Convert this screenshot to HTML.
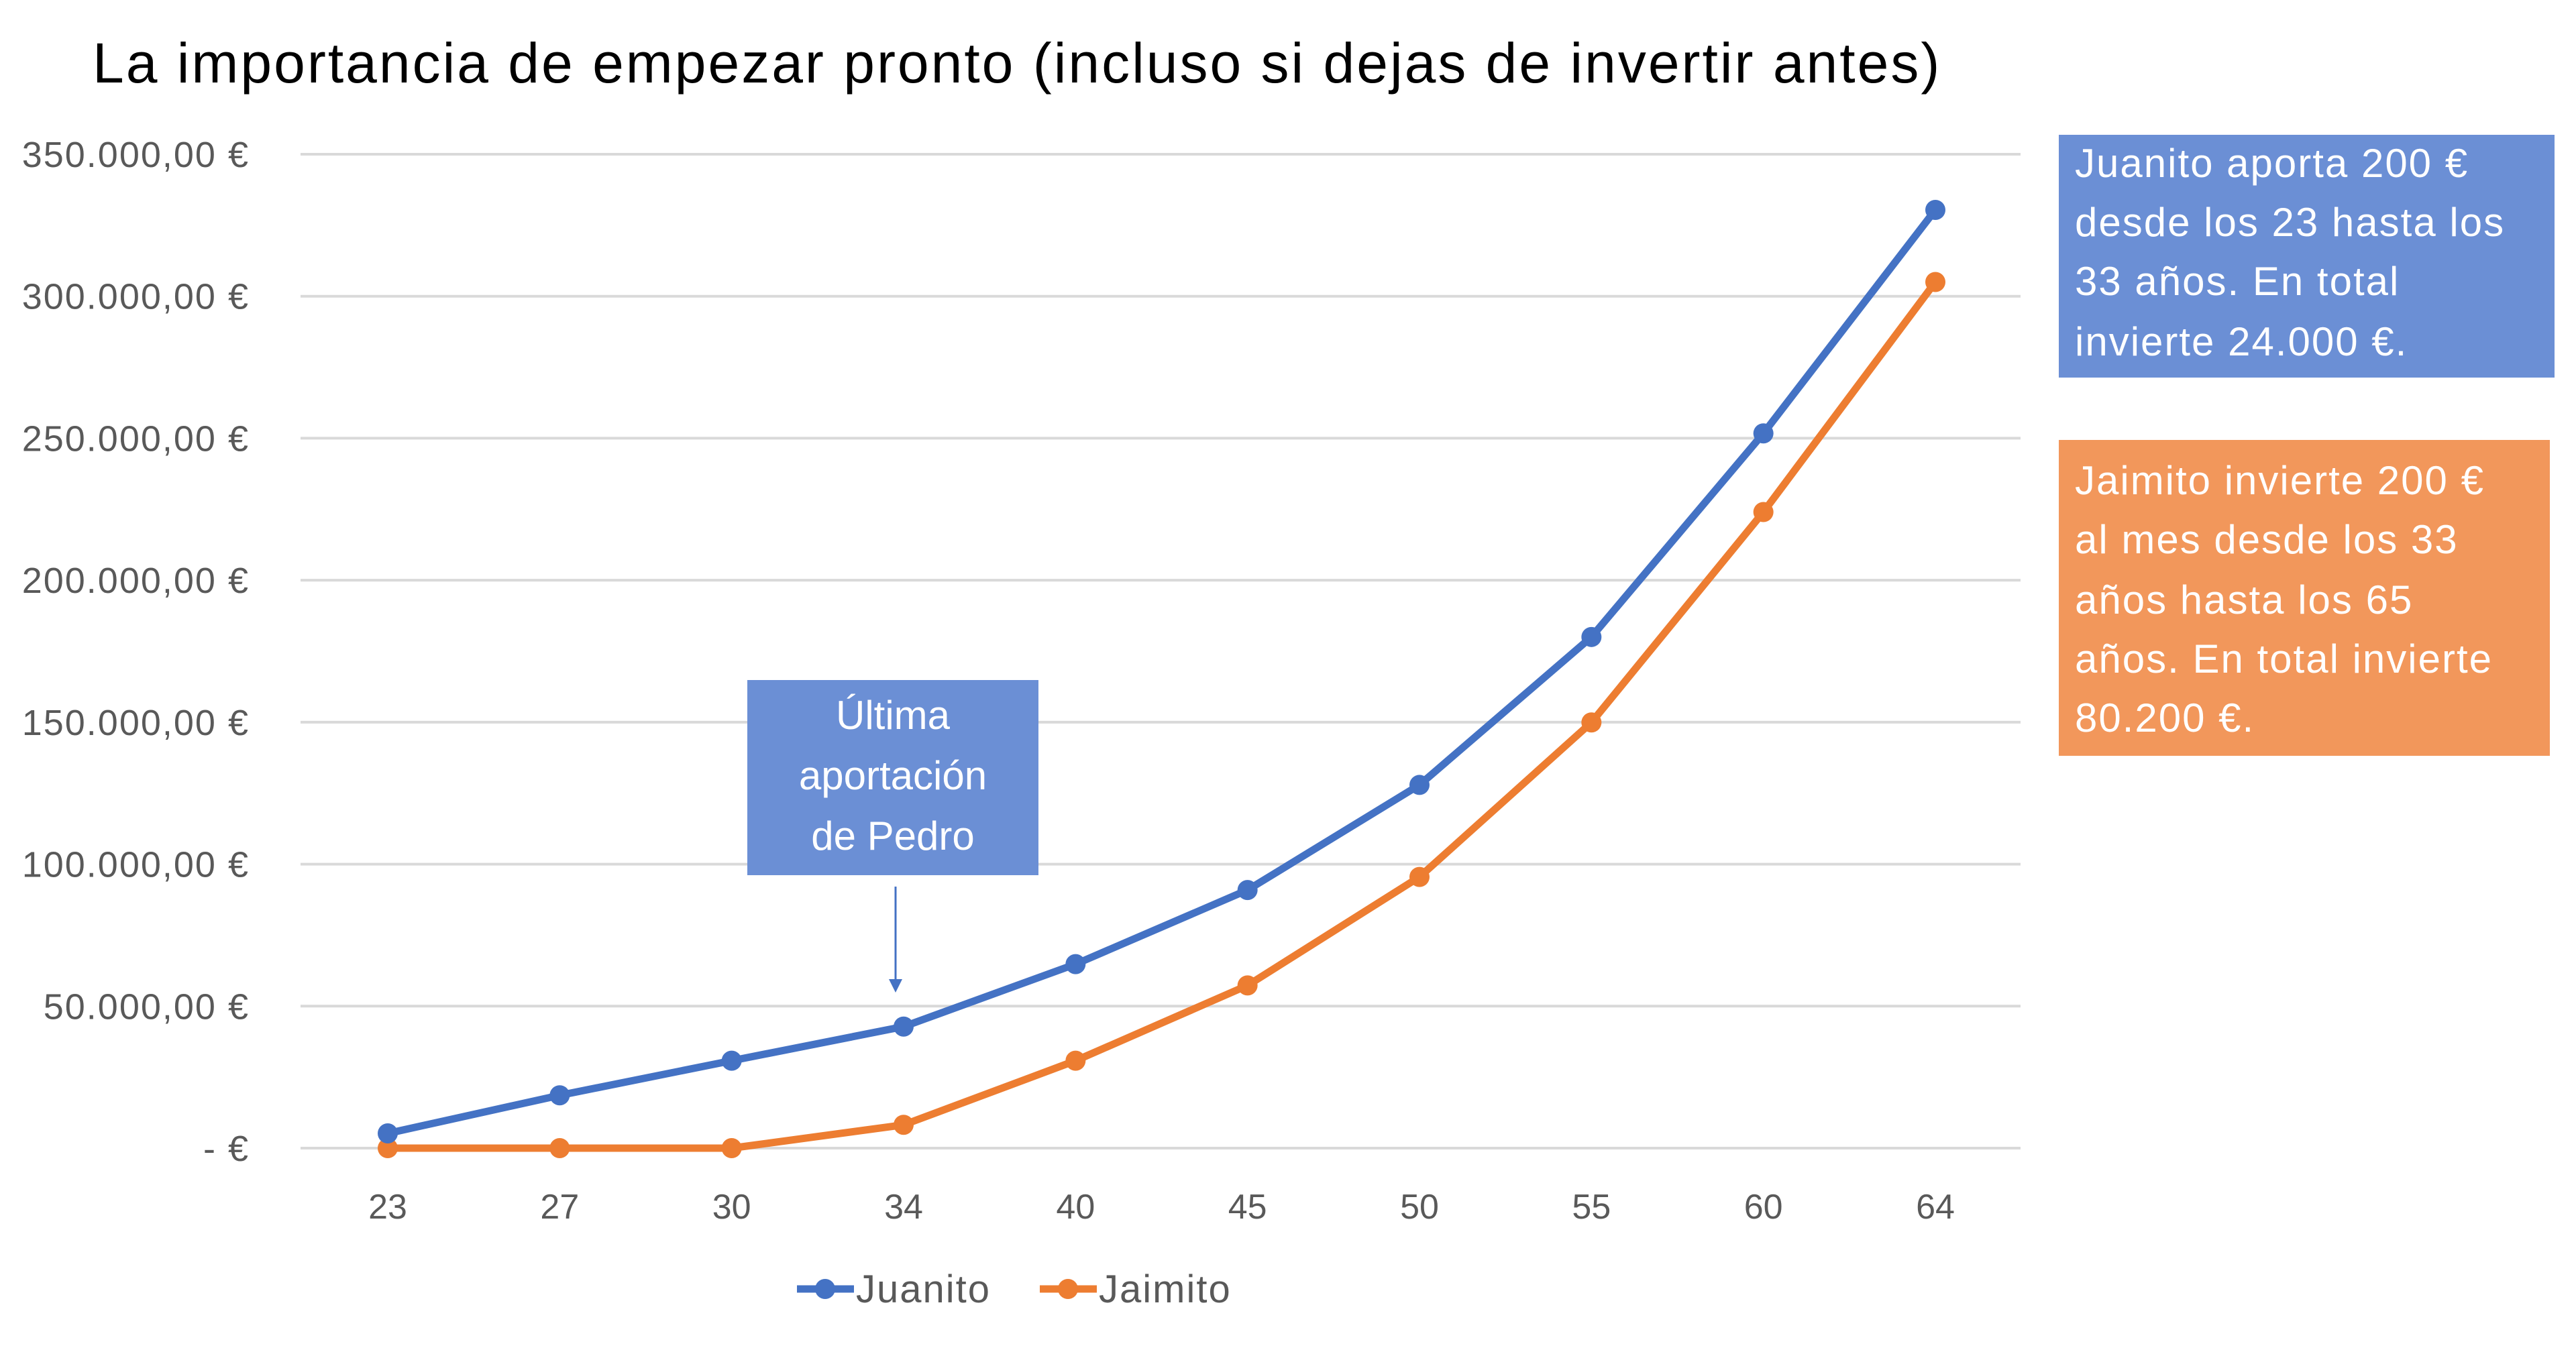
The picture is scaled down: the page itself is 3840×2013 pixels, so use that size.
<!DOCTYPE html>
<html><head><meta charset="utf-8"><style>
html,body{margin:0;padding:0;background:#fff;}
body{width:3840px;height:2013px;position:relative;overflow:hidden;font-family:"Liberation Sans",sans-serif;}
.box{position:absolute;color:#fff;box-sizing:border-box;}
.box div{position:absolute;left:24px;white-space:nowrap;font-size:60px;letter-spacing:2px;}
</style></head><body>
<div style="position:absolute;left:138px;top:46px;font-size:84px;letter-spacing:3px;color:#000;white-space:nowrap;">La importancia de empezar pronto (incluso si dejas de invertir antes)</div>
<svg id="chart" width="3840" height="2013" style="position:absolute;left:0;top:0;"></svg>
<div class="box" style="left:3069px;top:201px;width:739px;height:362px;background:#6B8FD5;">
<div style="top:8px">Juanito aporta 200 €</div>
<div style="top:96px">desde los 23 hasta los</div>
<div style="top:184px">33 años. En total</div>
<div style="top:274px">invierte 24.000 €.</div>
</div>
<div class="box" style="left:3069px;top:656px;width:732px;height:471px;background:#F2975B;">
<div style="top:26px">Jaimito invierte 200 €</div>
<div style="top:114px">al mes desde los 33</div>
<div style="top:204px">años hasta los 65</div>
<div style="top:292px">años. En total invierte</div>
<div style="top:380px">80.200 €.</div>
</div>
<div class="box" style="left:1114px;top:1014px;width:434px;height:291px;background:#6B8FD5;text-align:center;font-size:60px;line-height:90px;padding-top:8px;">Última<br>aportación<br>de Pedro</div>
<script>
const categories=["23","27","30","34","40","45","50","55","60","64"];
const juanito=[5200,18600,30800,42800,64800,90900,127900,180000,251700,330400];
const jaimito=[0,0,0,8200,30800,57300,95500,149900,224000,305000];
const yTicks=[0,50000,100000,150000,200000,250000,300000,350000];
const yTickLabels=["-  €","50.000,00 €","100.000,00 €","150.000,00 €","200.000,00 €","250.000,00 €","300.000,00 €","350.000,00 €"];
const NS="http://www.w3.org/2000/svg";
const svg=document.getElementById('chart');
const x0=578,x1=2885,plotL=448,plotR=3012,yZero=1712,yTop=230,yMax=350000;
const xs=i=>x0+(x1-x0)*i/(categories.length-1);
const ys=v=>yZero-(yZero-yTop)*v/yMax;
function mk(t,a){const e=document.createElementNS(NS,t);for(const k in a)e.setAttribute(k,a[k]);svg.appendChild(e);return e;}
yTicks.forEach((v,i)=>{
 const l=mk('line',{x1:plotL,x2:plotR,y1:ys(v),y2:ys(v),stroke:'#d9d9d9','stroke-width':4});
 
 
 const t=mk('text',{x:372,y:ys(v)+19,'text-anchor':'end','font-size':54,'letter-spacing':2,fill:'#595959','font-family':'Liberation Sans, sans-serif'});
 t.textContent=yTickLabels[i];
 
 
});
categories.forEach((c,i)=>{
 const t=mk('text',{x:xs(i),y:1817,'text-anchor':'middle','font-size':52,fill:'#595959','font-family':'Liberation Sans, sans-serif'});
 t.textContent=c;
 
 
});
function series(vals,color,name){
 const p=mk('polyline',{points:vals.map((v,i)=>xs(i)+','+ys(v)).join(' '),fill:'none',stroke:color,'stroke-width':11,'stroke-linejoin':'round'});
 
 
 vals.forEach((v,i)=>{
  const c=mk('circle',{cx:xs(i),cy:ys(v),r:15,fill:color});
  
  
 });
}
series(jaimito,'#ED7D31','jaimito');
series(juanito,'#4472C4','juanito');
const ar=mk('line',{x1:1335,y1:1322,x2:1335,y2:1468,stroke:'#4472C4','stroke-width':3});


const ah=mk('polygon',{points:'1325,1460 1345,1460 1335,1480',fill:'#4472C4'});


function legend(x,color,label,name){
 const l=mk('line',{x1:x,x2:x+85,y1:1922,y2:1922,stroke:color,'stroke-width':11});
 
 
 const c=mk('circle',{cx:x+42,cy:1922,r:15,fill:color});
 
 
 const t=mk('text',{x:x+88,y:1942,'font-size':58,'letter-spacing':2,fill:'#595959','font-family':'Liberation Sans, sans-serif'});
 t.textContent=label;
 
 
}
legend(1188,'#4472C4','Juanito','juanito');
legend(1550,'#ED7D31','Jaimito','jaimito');
</script>
</body></html>
